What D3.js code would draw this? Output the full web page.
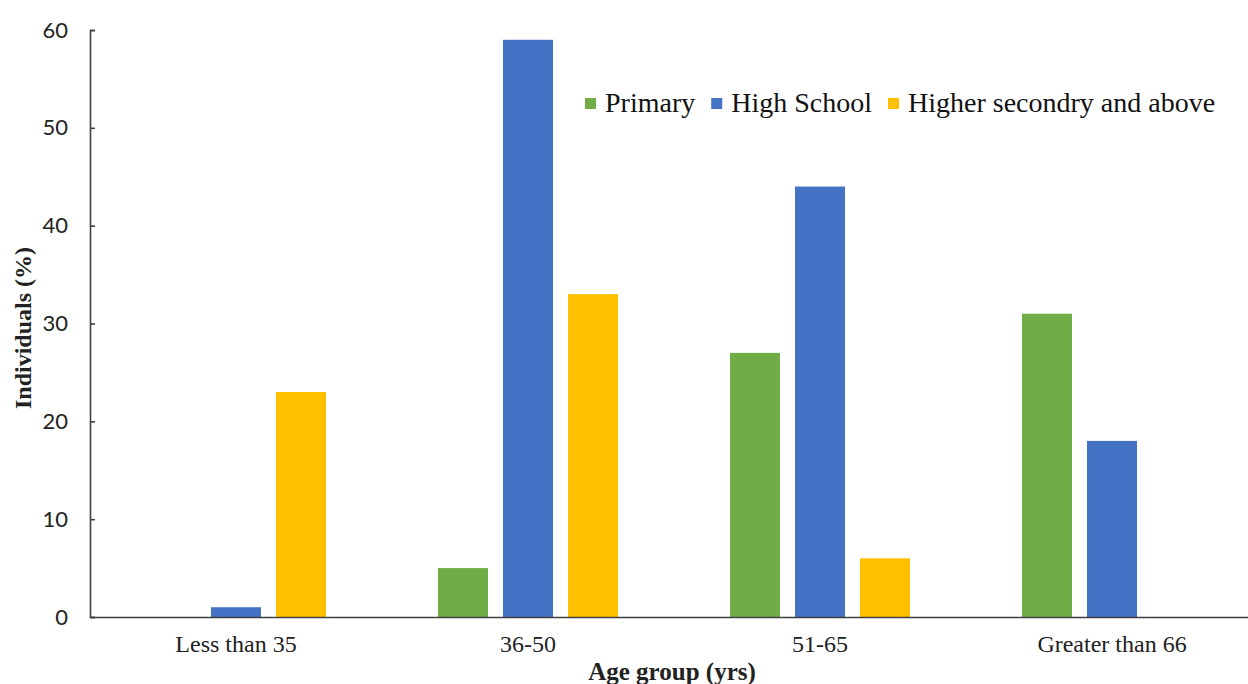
<!DOCTYPE html>
<html>
<head>
<meta charset="utf-8">
<script src="https://cdn.jsdelivr.net/npm/d3@7"></script>
<style>
  html, body { margin: 0; padding: 0; background: #fff; }
  svg { display: block; }
</style>
</head>
<body>
<svg id="chart" width="1248" height="684"></svg>
<script>
// ---- data ----
const categories = ["Less than 35", "36-50", "51-65", "Greater than 66"];
const seriesNames = ["Primary", "High School", "Higher secondry and above"];
const primary = [0, 5, 27, 31];
const highSchool = [1, 59, 44, 18];
const higherSecondary = [23, 33, 6, 0];
const yTicks = [0, 10, 20, 30, 40, 50, 60];
const colors = ["#70AD47", "#4472C4", "#FFC000"];
const xTitle = "Age group (yrs)";
const yTitle = "Individuals (%)";

const seriesValues = [primary, highSchool, higherSecondary];

const svg = d3.select("#chart");
const serif = "'Liberation Serif', 'Times New Roman', serif";

const x0 = d3.scaleBand().domain(categories).range([90, 1258]).padding(0);
const x1 = d3.scaleBand().domain(seriesNames).range([56, 236]).paddingInner(15 / 65).paddingOuter(0);
const y = d3.scaleLinear().domain([0, 60]).range([617, 30]);
const color = d3.scaleOrdinal().domain(seriesNames).range(colors);

// bars
const rows = categories.map((c, i) => ({
  cat: c,
  vals: seriesNames.map((s, j) => ({ s, v: seriesValues[j][i] }))
}));
const groups = svg.append("g").selectAll("g").data(rows).join("g")
  .attr("transform", d => `translate(${x0(d.cat)},0)`);
groups.selectAll("rect").data(d => d.vals.filter(e => e.v > 0)).join("rect")
  .attr("x", d => x1(d.s))
  .attr("width", x1.bandwidth())
  .attr("y", d => y(d.v))
  .attr("height", d => y(0) - y(d.v))
  .attr("fill", d => color(d.s));

// y axis
const yAxis = svg.append("g").attr("transform", "translate(90,0)")
  .call(d3.axisLeft(y).tickValues(yTicks).tickSizeInner(-5).tickSizeOuter(-5).tickPadding(22).tickFormat(d3.format("d")));
yAxis.select(".domain").attr("stroke", "#404040").attr("stroke-width", 1.6);
yAxis.selectAll(".tick line").attr("stroke", "#404040").attr("stroke-width", 1.6);
yAxis.selectAll(".tick text").attr("font-family", "Lato, 'Open Sans', sans-serif").attr("font-size", 22).attr("fill", "#222");

// x axis
const xAxis = svg.append("g").attr("transform", "translate(0,617)")
  .call(d3.axisBottom(x0).tickSize(0).tickPadding(0));
xAxis.select(".domain").attr("stroke", "#404040").attr("stroke-width", 1.6);
xAxis.selectAll(".tick text")
  .attr("font-family", serif).attr("font-size", 24).attr("fill", "#222")
  .attr("dy", 0).attr("y", 35)
  .attr("transform", d => `translate(${x1("High School") + x1.bandwidth() / 2 - x0.bandwidth() / 2},0)`);

// axis titles
svg.append("text").attr("x", 672).attr("y", 680).attr("text-anchor", "middle")
  .attr("font-family", serif).attr("font-weight", "bold").attr("font-size", 25).attr("fill", "#222")
  .text(xTitle);
svg.append("text").attr("transform", "translate(31,328) rotate(-90)").attr("text-anchor", "middle")
  .attr("font-family", serif).attr("font-weight", "bold").attr("font-size", 24).attr("fill", "#222")
  .text(yTitle);

// legend
const legend = svg.append("g");
let lx = 585;
seriesNames.forEach((s, i) => {
  legend.append("rect").attr("x", lx).attr("y", 98).attr("width", 11).attr("height", 11).attr("fill", colors[i]);
  const t = legend.append("text").attr("x", lx + 20).attr("y", 112)
    .attr("font-family", serif).attr("font-size", 28).attr("fill", "#111").text(s);
  const w = t.node().getComputedTextLength();
  lx = lx + 20 + w + 16;
});
</script>
</body>
</html>
